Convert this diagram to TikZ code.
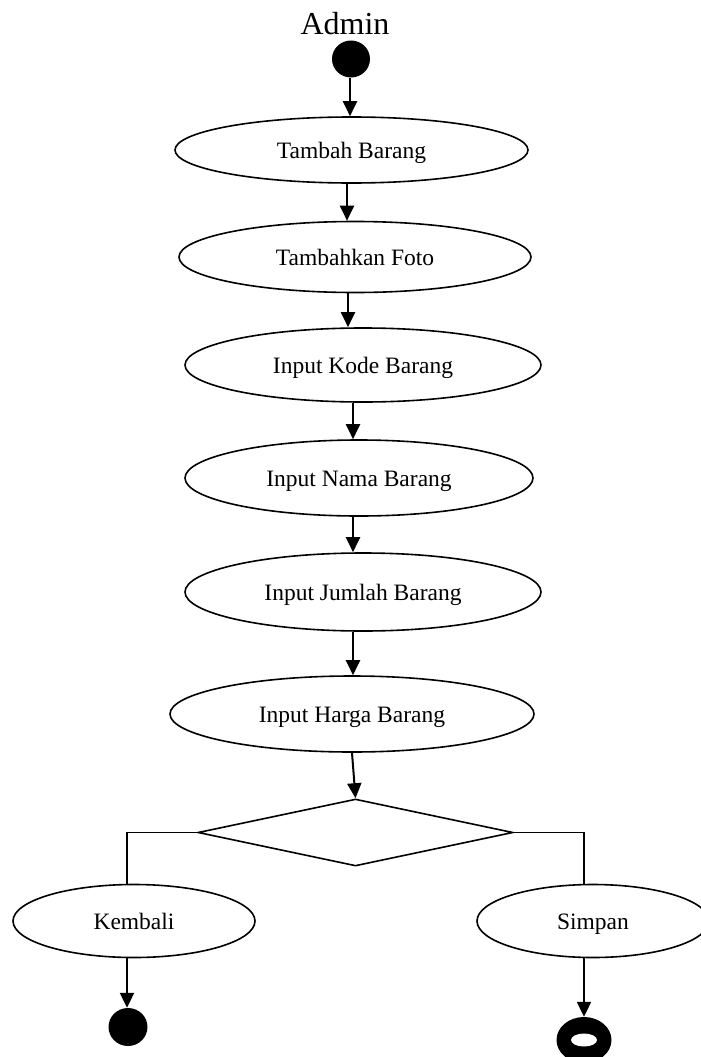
\documentclass[tikz,border=0pt]{standalone}
\usepackage{fontspec}
\setmainfont{Liberation Serif}
\usetikzlibrary{shapes.geometric,arrows.meta}
\begin{document}
\begin{tikzpicture}[x=1pt,y=-1pt,
  act/.style={draw, ellipse, line width=1.6pt, inner sep=0pt, fill=white,
              text height=16pt, text depth=0pt,
              font=\fontsize{23.5}{28}\selectfont},
  flow/.style={line width=2pt, -{Triangle[width=14pt,length=15pt]}},
  link/.style={line width=1.6pt},
  dot/.style={ellipse, fill=black, inner sep=0pt}]
\useasboundingbox (0,0) rectangle (701,1057);

% actor label and initial state
\node[anchor=base, font=\fontsize{32}{36}\selectfont] (actor) at (345,35) {Admin};
\node[dot, minimum width=38pt, minimum height=37pt] (start) at (351,59) {};

% activities
\node[act, minimum width=353pt, minimum height=66pt] (e1) at (351.5,150) {Tambah Barang};
\node[act, minimum width=352pt, minimum height=71pt] (e2) at (355,257) {Tambahkan Foto};
\node[act, minimum width=356pt, minimum height=74pt] (e3) at (363,365) {Input Kode Barang};
\node[act, minimum width=348pt, minimum height=76pt] (e4) at (359,478) {Input Nama Barang};
\node[act, minimum width=356pt, minimum height=78pt] (e5) at (363,592) {Input Jumlah Barang};
\node[act, minimum width=364pt, minimum height=76pt] (e6) at (352,714) {Input Harga Barang};

% decision
\node[diamond, draw, line width=1.6pt, inner sep=0pt, minimum width=315pt,
      minimum height=67pt] (dec) at (355.5,832.5) {};

% branches
\node[act, minimum width=242pt, minimum height=73pt] (kembali) at (134,921) {Kembali};
\node[act, minimum width=232pt, minimum height=73pt] (simpan) at (593,921) {Simpan};

% final states
\node[dot, minimum width=39pt, minimum height=38pt] (endk) at (128,1027) {};
\node[dot, minimum width=55pt, minimum height=46pt] (ends) at (584,1040) {};
\node[ellipse, fill=white, inner sep=0pt, minimum width=26pt, minimum height=13pt] (endsin) at (584,1040) {};

% flow
\draw[flow] (start.south -| 350,0) -- (e1.north -| 350,0);
\draw[flow] (e1.south -| 347,0) -- (e2.north -| 347,0);
\draw[flow] (e2.south -| 348,0) -- (e3.north -| 348,0);
\draw[flow] (e3.south -| 353,0) -- (e4.north -| 353,0);
\draw[flow] (e4.south -| 353,0) -- (e5.north -| 353,0);
\draw[flow] (e5.south -| 353,0) -- (e6.north -| 353,0);
\draw[flow] (e6.south) -- (dec.north);

\coordinate (kl) at (127,832.5);
\coordinate (sr) at (584,832.5);
\draw[link] (dec.west) -- (kl) -- (kl |- kembali.north);
\draw[link] (dec.east) -- (sr) -- (sr |- simpan.north);

\draw[flow] (kembali.south -| 127,0) -- (endk.north -| 127,0);
\draw[flow] (simpan.south -| 584,0) -- (ends.north);
\end{tikzpicture}
\end{document}
